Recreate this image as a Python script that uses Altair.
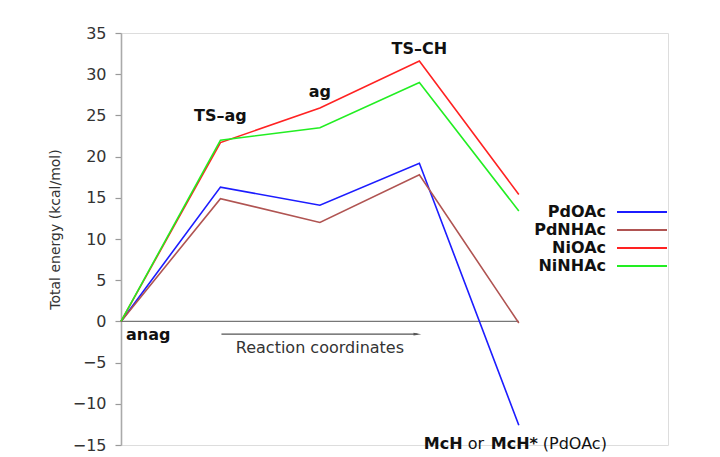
import altair as alt
import pandas as pd

# Reaction path stages (x positions 0..4) and energies in kcal/mol
stages = [0, 1, 2, 3, 4]
series_names = ["PdOAc", "PdNHAc", "NiOAc", "NiNHAc"]
series_colors = ["#1c1cff", "#b05452", "#ff2222", "#22ee22"]
pd_oac = [0, 16.3, 14.1, 19.2, -12.6]
pd_nhac = [0, 14.9, 12.0, 17.8, -0.2]
ni_oac = [0, 21.7, 25.9, 31.6, 15.4]
ni_nhac = [0, 22.0, 23.5, 29.0, 13.4]

# Stage labels and where they sit
stage_labels = ["TS–ag", "ag", "TS–CH"]
stage_label_x = [1, 2, 3]
stage_label_y = [24.9, 27.8, 33.0]

y_ticks = [-15, -10, -5, 0, 5, 10, 15, 20, 25, 30, 35]

FONT = "DejaVu Sans"

rows = []
for name, vals in zip(series_names, [pd_oac, pd_nhac, ni_oac, ni_nhac]):
    for s, v in zip(stages, vals):
        rows.append({"series": name, "stage": s, "energy": v})
df = pd.DataFrame(rows)

x_scale = alt.Scale(domain=[0, 5.5], nice=False, zero=False)
y_scale = alt.Scale(domain=[-15, 35], nice=False, zero=False)
color_scale = alt.Scale(domain=series_names, range=series_colors)

y_axis = alt.Axis(
    values=y_ticks, grid=False, tickSize=6, tickColor="#999999", tickWidth=1.2,
    domainColor="#aaaaaa", domainWidth=1.6, labelFont=FONT, labelFontSize=16,
    labelColor="#333333", labelPadding=9, title="Total energy (kcal/mol)",
    titleFont=FONT, titleFontSize=14, titleFontWeight="normal", titleColor="#333333",
    titleAngle=-90, titleX=-66, titleY=196, titleAlign="center", titleBaseline="middle",
)

base = alt.Chart(df)

zero_line = alt.Chart(pd.DataFrame({"x0": [0], "x1": [4], "y": [0]})).mark_rule(
    color="#777777", strokeWidth=1.2
).encode(
    x=alt.X("x0:Q", scale=x_scale, axis=None),
    x2="x1:Q",
    y=alt.Y("y:Q", scale=y_scale, axis=y_axis),
)

lines = base.mark_line(strokeWidth=1.6).encode(
    x=alt.X("stage:Q", scale=x_scale, axis=None),
    y=alt.Y("energy:Q", scale=y_scale, axis=y_axis),
    color=alt.Color("series:N", scale=color_scale, legend=None),
    order=alt.Order("stage:Q"),
)

labels_df = pd.DataFrame({"label": stage_labels, "x": stage_label_x, "y": stage_label_y})
stage_text = alt.Chart(labels_df).mark_text(
    font=FONT, fontSize=16, fontWeight="bold", color="#111111", baseline="middle"
).encode(x=alt.X("x:Q", scale=x_scale), y=alt.Y("y:Q", scale=y_scale), text="label:N")

anag_text = alt.Chart(pd.DataFrame({"label": ["anag"], "x": [0], "y": [-1.6]})).mark_text(
    font=FONT, fontSize=16, fontWeight="bold", color="#111111", align="left",
    baseline="middle", dx=5
).encode(x=alt.X("x:Q", scale=x_scale), y=alt.Y("y:Q", scale=y_scale), text="label:N")

# Reaction-coordinate arrow under the zero line
arrow_df = pd.DataFrame({"x0": [1.01], "x1": [2.98], "y": [-1.55]})
arrow_line = alt.Chart(arrow_df).mark_rule(color="#555555", strokeWidth=1.2).encode(
    x=alt.X("x0:Q", scale=x_scale), x2="x1:Q", y=alt.Y("y:Q", scale=y_scale)
)
arrow_head = alt.Chart(arrow_df).mark_point(
    shape="M-1,-0.35L1,0L-1,0.35Z", size=60, filled=True, color="#555555", opacity=1
).encode(x=alt.X("x1:Q", scale=x_scale), y=alt.Y("y:Q", scale=y_scale))
arrow_text = alt.Chart(pd.DataFrame({"label": ["Reaction coordinates"], "x": [2.0], "y": [-3.2]})).mark_text(
    font=FONT, fontSize=16, color="#333333", baseline="middle"
).encode(x=alt.X("x:Q", scale=x_scale), y=alt.Y("y:Q", scale=y_scale), text="label:N")

# End-point label with mixed weights
end_parts = ["McH", "or", "McH*", "(PdOAc)"]
end_weights = ["bold", "normal", "bold", "normal"]
end_dx = [-95, -51, -28, 24]
end_layers = []
for part, w, d in zip(end_parts, end_weights, end_dx):
    end_layers.append(
        alt.Chart(pd.DataFrame({"label": [part], "x": [4], "y": [-14.9]})).mark_text(
            font=FONT, fontSize=16, fontWeight=w, color="#111111", align="left",
            baseline="middle", dx=d
        ).encode(x=alt.X("x:Q", scale=x_scale), y=alt.Y("y:Q", scale=y_scale), text="label:N")
    )

main = alt.layer(zero_line, lines, stage_text, anag_text, arrow_line, arrow_head,
                 arrow_text, *end_layers)

# Legend drawn as its own layer: names right-aligned, line swatches to the right
legend_df = pd.DataFrame({"series": series_names})
leg_y = alt.Y("series:N", scale=alt.Scale(type="point", domain=series_names,
                                            range=[179, 233], padding=0), axis=None)
legend_text = alt.Chart(legend_df).mark_text(
    font=FONT, fontSize=16, fontWeight="bold", color="#111111", align="right",
    baseline="middle"
).encode(x=alt.value(485), y=leg_y, text="series:N")
legend_swatch = alt.Chart(legend_df).mark_rule(strokeWidth=2.2).encode(
    x=alt.value(496), x2=alt.value(546), y=leg_y,
    color=alt.Color("series:N", scale=color_scale, legend=None),
)
legend = alt.layer(legend_text, legend_swatch)

chart = alt.layer(main, legend).resolve_scale(y="independent").properties(
    width=547, height=412,
    autosize=alt.AutoSizeParams(type="none"),
    padding={"left": 121, "top": 33, "right": 52, "bottom": 12},
).configure_view(stroke=None).configure(background="white")

chart.save("out.html", embed_options={"renderer": "svg", "actions": False})
